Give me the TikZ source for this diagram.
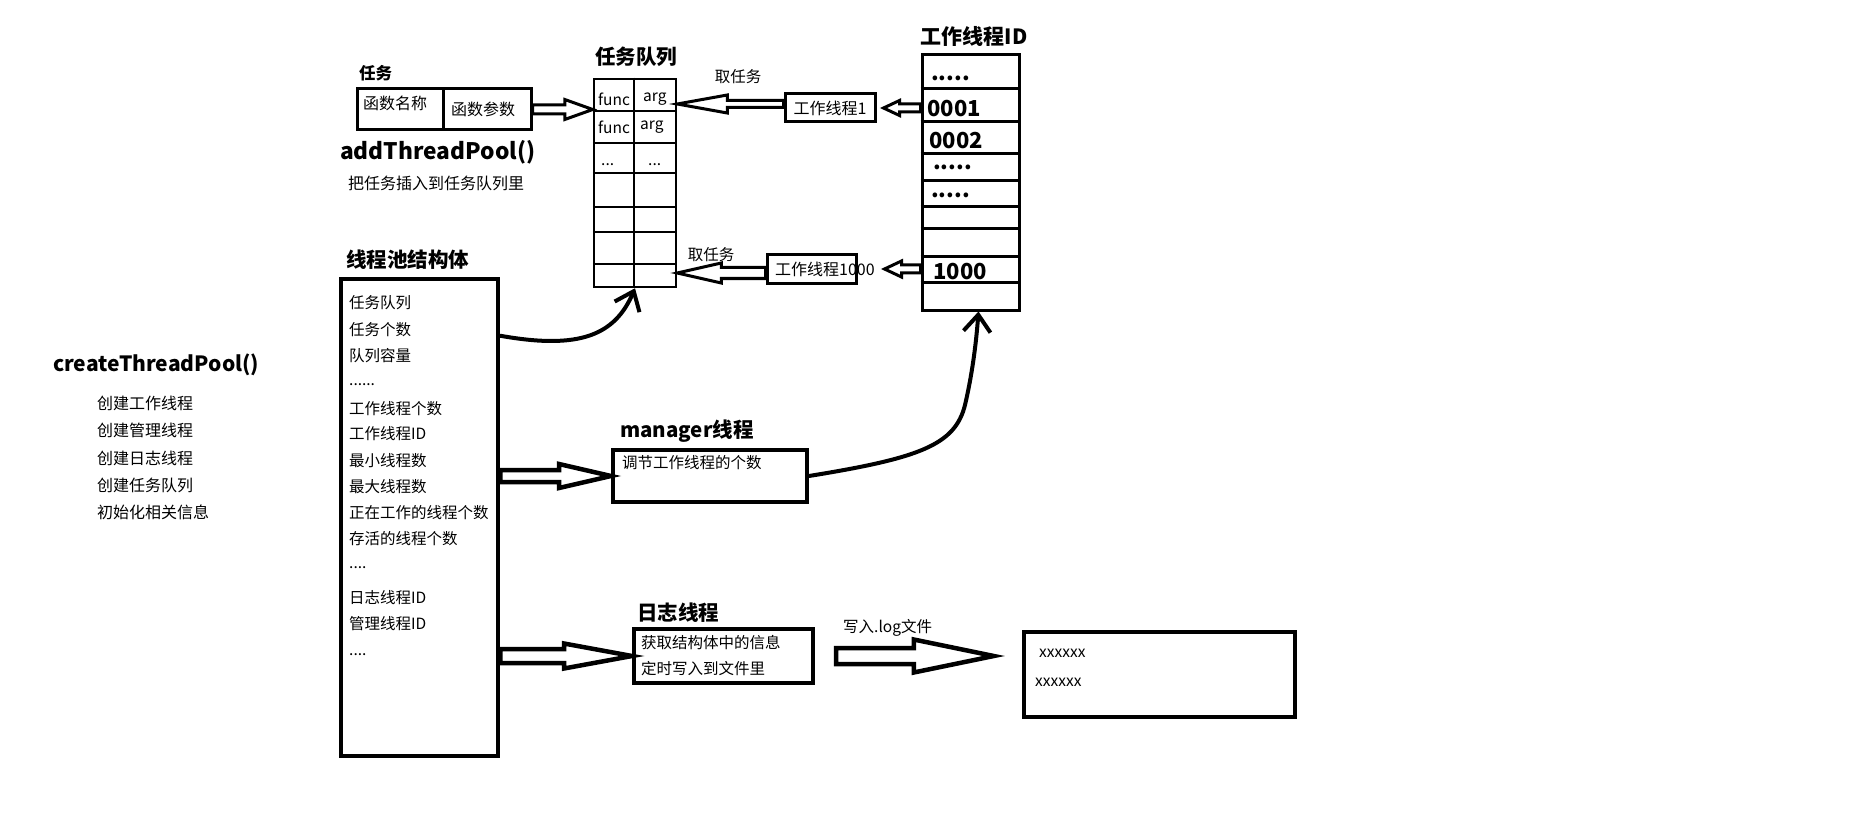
\documentclass[tikz,border=0pt]{standalone}
\usepackage{fontspec}
\setmainfont{Noto Sans CJK SC}
\usetikzlibrary{arrows.meta,calc}

\tikzset{
  box/.style={draw, line width=3pt, inner sep=0pt},
  thinbox/.style={draw, line width=2.5pt, inner sep=0pt},
  bigbox/.style={draw, line width=4.5pt, inner sep=0pt},
  lbl/.style={font=\fontsize{15.5}{18}\selectfont, inner sep=0pt, anchor=west},
  ttl/.style={font=\bfseries\fontsize{20.5}{24}\selectfont, inner sep=0pt, anchor=west},
  blockline/.style={draw, line width=3pt, line join=miter},
  curve/.style={line width=4pt, line cap=round, -{Straight Barb[length=17pt,width=27pt]}},
}

% hollow arrow: [opts]{from}{to}{shaft half}{head half}{head length}
\newcommand{\blockarrow}[6][]{%
  \draw[blockline,#1] let \p1=(#2), \p2=(#3), \n1={sign(\x2-\x1)*#6} in
    (\x1,\y1-#4) -- (\x2-\n1,\y1-#4) -- (\x2-\n1,\y1-#5) -- (\x2,\y1)
    -- (\x2-\n1,\y1+#5) -- (\x2-\n1,\y1+#4) -- (\x1,\y1+#4) -- cycle;}

\begin{document}
\begin{tikzpicture}[x=1pt,y=-1pt]
\useasboundingbox (0,0) rectangle (1872,837);

% task
\node[ttl, font=\bfseries\fontsize{16.5}{20}\selectfont] (ttask) at (359,73) {任务};
\node[box, minimum width=174pt, minimum height=41pt] (task) at (444,109.5) {};
\draw[line width=3pt] (task.north -| 443,0) -- (task.south -| 443,0);
\node[lbl, font=\fontsize{16}{18}\selectfont] (tname) at (363,103) {函数名称};
\node[lbl, font=\fontsize{16}{18}\selectfont] (targ) at (451,109) {函数参数};
\node[ttl, font=\bfseries\fontsize{22.7}{26}\selectfont] (tadd) at (340,152) {addThreadPool()};
\node[lbl, font=\fontsize{16}{18}\selectfont] (tinsert) at (348,183) {把任务插入到任务队列里};

% queue
\node[ttl, anchor=center] (tqueue) at (636,57) {任务队列};
\node[thinbox, minimum width=82pt, minimum height=208pt] (queue) at (635,183) {};
\draw[line width=2.5pt] (queue.north -| 634,0) -- (queue.south -| 634,0);
\foreach \y in {111,143,173,207,232,264}
  \draw[line width=2.5pt] (queue.west |- 0,\y) -- (queue.east |- 0,\y);
\node[lbl] (qf1) at (598,99) {func};
\node[lbl] (qa1) at (643,99) {arg};
\node[lbl] (qf2) at (598,127) {func};
\node[lbl] (qa2) at (640,127) {arg};
\node[lbl] (qd1) at (601,165) {...};
\node[lbl] (qd2) at (648,165) {...};

% worker thread ids
\node[ttl, anchor=center, font=\bfseries\fontsize{21}{24}\selectfont] (tids) at (974,36) {工作线程ID};
\node[box, minimum width=97pt, minimum height=255pt] (ids) at (970.5,182.5) {};
\foreach \y in {89,122,154,181,207,229,257,282}
  \draw[line width=3pt] (ids.west |- 0,\y) -- (ids.east |- 0,\y);
\foreach \t/\x/\y [count=\i] in {{.....}/931/78, 0001/927/109, 0002/929/141, {.....}/933/167, {.....}/931/195, 1000/933/272}
  \node[ttl, font=\bfseries\fontsize{22}{24}\selectfont] (id\i) at (\x,\y) {\t};

% workers
\node[box, minimum width=90pt, minimum height=28pt, font=\fontsize{16}{18}\selectfont] (w1) at (830,108) {工作线程1};
\node[box, minimum width=89pt, minimum height=28pt] (w1000) at (811.5,269) {};
\node[lbl, font=\fontsize{16}{18}\selectfont] (tw1000) at (775,269) {工作线程1000};
\node[lbl, anchor=center] (take1) at (738,77) {取任务};
\node[lbl, anchor=center] (take2) at (711,255) {取任务};

\blockarrow[line width=3pt]{task.east}{queue.west}{4.5pt}{10pt}{28pt}
\blockarrow[line width=3pt]{[yshift=4pt]w1.west}{queue.east}{3.5pt}{9pt}{50pt}
\blockarrow[line width=3pt]{ids.west |- w1.east}{[xshift=7pt]w1.east}{4pt}{7.5pt}{16pt}
\blockarrow[line width=3pt]{[yshift=-4pt]w1000.west}{queue.east}{5.5pt}{10pt}{44pt}
\blockarrow[line width=3pt]{ids.west |- w1000.east}{[xshift=27pt]w1000.east}{4pt}{8pt}{17pt}

% pool struct
\node[ttl] (tpool) at (346,260) {线程池结构体};
\node[bigbox, minimum width=157pt, minimum height=477pt] (pool) at (419.5,517.5) {};
\foreach \t/\y [count=\i] in {任务队列/303, 任务个数/330, 队列容量/356, {......}/385, 工作线程个数/409,
    工作线程ID/434, 最小线程数/461, 最大线程数/487, 正在工作的线程个数/513, 存活的线程个数/539,
    {....}/568, 日志线程ID/598, 管理线程ID/624, {....}/655}
  \node[lbl] (item\i) at (349,\y) {\t};

\draw[curve] ($(pool.north east)+(0,59)$) .. controls (580,350) and (615,335) .. (queue.south);

% createThreadPool
\node[ttl, font=\bfseries\fontsize{21}{24}\selectfont] (tcreate) at (53,365) {createThreadPool()};
\foreach \t/\y [count=\i] in {创建工作线程/403, 创建管理线程/430, 创建日志线程/458, 创建任务队列/485, 初始化相关信息/512}
  \node[lbl, font=\fontsize{16}{18}\selectfont] (step\i) at (97,\y) {\t};

% manager
\node[ttl] (tmgr) at (620,431) {manager线程};
\node[bigbox, line width=4pt, minimum width=194pt, minimum height=52pt] (mgr) at (710,476) {};
\node[lbl] (tmgrtext) at (622,463) {调节工作线程的个数};
\blockarrow[line width=4.5pt]{pool.east |- mgr.west}{mgr.west}{6pt}{12pt}{52pt}
\draw[curve] (mgr.east) .. controls (920,458) and (955,445) .. (965,405)
  .. controls (972,375) and (976,345) .. ([xshift=8pt]ids.south);

% log
\node[ttl] (tlog) at (637,613) {日志线程};
\node[bigbox, line width=4pt, minimum width=179pt, minimum height=54pt] (log) at (723.5,656) {};
\node[lbl] (tlog1) at (641,643) {获取结构体中的信息};
\node[lbl] (tlog2) at (641,669) {定时写入到文件里};
\blockarrow[line width=4.5pt]{pool.east |- log.west}{log.west}{7pt}{12.5pt}{68pt}

% file
\node[lbl] (twrite) at (843,628) {写入.log文件};
\node[bigbox, minimum width=271pt, minimum height=85pt] (file) at (1159.5,674.5) {};
\node[lbl] (tfile1) at (1039,653) {xxxxxx};
\node[lbl] (tfile2) at (1035,682) {xxxxxx};
\blockarrow[line width=4.5pt]{[xshift=21pt]log.east}{[xshift=-28pt]file.west}{8pt}{16.5pt}{80pt}
\end{tikzpicture}
\end{document}
